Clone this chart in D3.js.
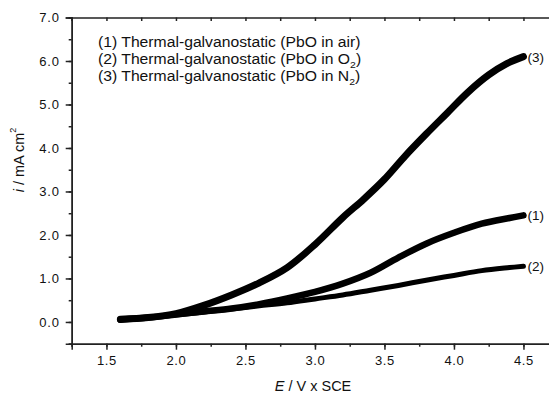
<!DOCTYPE html>
<html><head><meta charset="utf-8">
<script src="https://cdn.jsdelivr.net/npm/d3@7"></script>
<style>
body{margin:0;background:#fff;}
text{font-family:Arial,"Liberation Sans",sans-serif;fill:#111;}
</style></head>
<body><svg id="c" width="549" height="394"></svg>
<script>
const potential3 = [1.6,1.8,2.0,2.2,2.4,2.6,2.8,3.0,3.2,3.35,3.5,3.65,3.8,3.95,4.1,4.25,4.38,4.5];
const curN2  = [0.06,0.10,0.19,0.38,0.62,0.90,1.25,1.78,2.40,2.82,3.28,3.82,4.32,4.80,5.28,5.68,5.94,6.10];
const potential = [1.6,1.8,2.0,2.2,2.4,2.6,2.8,3.0,3.2,3.4,3.6,3.8,4.0,4.2,4.4,4.5];
const curAir = [0.05,0.10,0.17,0.24,0.31,0.41,0.54,0.69,0.88,1.13,1.48,1.80,2.05,2.26,2.39,2.45];
const curO2  = [0.05,0.10,0.16,0.23,0.30,0.37,0.44,0.53,0.62,0.73,0.84,0.96,1.07,1.18,1.25,1.28];
const xTicks = [1.5,2.0,2.5,3.0,3.5,4.0,4.5];
const yTicks = [0,1,2,3,4,5,6,7];
const endLabels = ["(1)","(2)","(3)"];

const svg = d3.select("#c");
const x = d3.scaleLinear().domain([1.25,4.75]).range([71.7,558.2]);
const y = d3.scaleLinear().domain([-0.5,7.0]).range([343.7,17.5]);
const axisCol = "#222";

// curves
const line = d3.line().x(d=>x(d[0])).y(d=>y(d[1])).curve(d3.curveCatmullRom.alpha(0.5));
const series = [
  {xs:potential, ys:curO2, w:5, lab:endLabels[1]},
  {xs:potential, ys:curAir, w:6.5, lab:endLabels[0]},
  {xs:potential3, ys:curN2, w:7, lab:endLabels[2]}
];
series.forEach(s=>{
  const pts = s.xs.map((v,i)=>[v,s.ys[i]]);
  svg.append("path").attr("d",line(pts)).attr("fill","none")
    .attr("stroke","#000").attr("stroke-width",s.w)
    .attr("stroke-linecap","round").attr("stroke-linejoin","round");
  const last = pts[pts.length-1];
  svg.append("text").attr("x",x(last[0])+4).attr("y",y(last[1])+5)
    .attr("font-size",13.5).text(s.lab);
});

// bottom axis
const xMinor = d3.range(1.25,4.76,0.25);
const gBottom = svg.append("g").attr("transform","translate(0,343.7)");
gBottom.call(d3.axisBottom(x).tickValues(xMinor).tickSize(3).tickFormat(""));
gBottom.append("g").call(d3.axisBottom(x).tickValues(xTicks).tickSize(6).tickPadding(6).tickFormat(d3.format(".1f")));
gBottom.selectAll("path.domain").attr("stroke",axisCol).attr("stroke-width",1.5);
gBottom.selectAll(".tick line").attr("stroke",axisCol).attr("stroke-width",1.5);
gBottom.selectAll("text").attr("font-size",13).attr("letter-spacing",0.6).attr("font-family","Arial, 'Liberation Sans', sans-serif").attr("fill","#111");

// top axis
const gTop = svg.append("g").attr("transform","translate(0,17.5)");
gTop.call(d3.axisBottom(x).tickValues(xMinor).tickSize(3.5).tickFormat(""));
gTop.selectAll("path.domain").attr("stroke",axisCol).attr("stroke-width",1.5);
gTop.selectAll(".tick line").attr("stroke",axisCol).attr("stroke-width",1.5);

// left axis
const yMinor = d3.range(-0.5,7.01,0.5);
const gLeft = svg.append("g").attr("transform","translate(71.7,0)");
gLeft.call(d3.axisLeft(y).tickValues(yMinor).tickSize(3).tickFormat(""));
gLeft.append("g").call(d3.axisLeft(y).tickValues(yTicks).tickSize(6).tickPadding(6).tickFormat(d3.format(".1f")));
gLeft.selectAll("path.domain").attr("stroke",axisCol).attr("stroke-width",1.5);
gLeft.selectAll(".tick line").attr("stroke",axisCol).attr("stroke-width",1.5);
gLeft.selectAll("text").attr("font-size",13).attr("letter-spacing",0.8).attr("font-family","Arial, 'Liberation Sans', sans-serif").attr("fill","#111");

// axis titles
const xt = svg.append("text").attr("x",313).attr("y",391).attr("text-anchor","middle").attr("font-size",14.5);
xt.append("tspan").attr("font-style","italic").text("E");
xt.append("tspan").text(" / V x SCE");

const yt = svg.append("text").attr("transform","translate(24,160) rotate(-90)").attr("text-anchor","middle").attr("font-size",14.5);
yt.append("tspan").attr("font-style","italic").text("i");
yt.append("tspan").text(" / mA cm");
yt.append("tspan").attr("font-size",9).attr("dy",-8).text("2");

// legend
const legendItems = [
  {n:"(1) Thermal-galvanostatic (PbO in air)", sub:null, tail:null},
  {n:"(2) Thermal-galvanostatic (PbO in O", sub:"2", tail:")"},
  {n:"(3) Thermal-galvanostatic (PbO in N", sub:"2", tail:")"}
];
const gLeg = svg.append("g").attr("transform","translate(98,0) scale(1.1,1)");
legendItems.forEach((d,i)=>{
  const t = gLeg.append("text").attr("x",0).attr("y",47+i*17).attr("font-size",14.3);
  t.append("tspan").text(d.n);
  if(d.sub){
    t.append("tspan").attr("font-size",9.5).attr("dy",4).text(d.sub);
    t.append("tspan").attr("dy",-4).text(d.tail);
  }
});
</script></body></html>
